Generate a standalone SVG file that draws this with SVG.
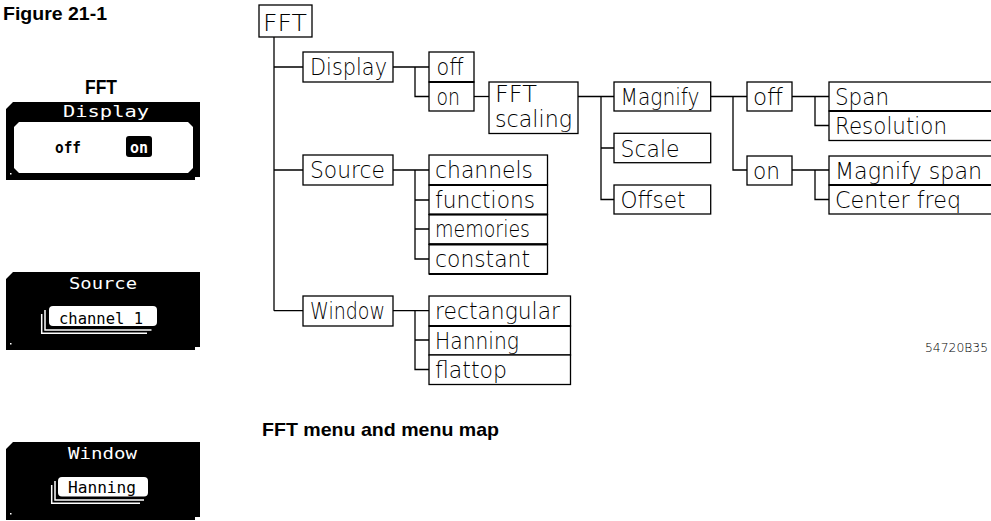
<svg xmlns="http://www.w3.org/2000/svg" width="991" height="521" viewBox="0 0 991 521">
<style>
.bg{fill:#fff}
.box{fill:#fff;stroke:#000;stroke-width:1.3}
.sep{stroke:#000;stroke-width:2.2;fill:none}
.ln{stroke:#000;stroke-width:1.3;fill:none}
.t{font-family:"DejaVu Sans","Liberation Sans",sans-serif;font-weight:200;font-size:23px;fill:#000}
.id{font-family:"DejaVu Sans","Liberation Sans",sans-serif;font-weight:200;font-size:12.5px;fill:#000}
.hd{font-family:"Liberation Sans Narrow","Liberation Sans",sans-serif;font-weight:bold;fill:#000}
.panel{fill:#000}
.pw{fill:#fff}
.ps{stroke:#fff;stroke-width:1.5;fill:none}
.pt{font-family:"DejaVu Sans Mono","Liberation Mono",monospace;font-size:16px}
</style>
<rect class="bg" x="0" y="0" width="991" height="521"/>

<text class="hd" x="3" y="20" font-size="18" textLength="104" lengthAdjust="spacingAndGlyphs">Figure 21-1</text>
<text class="hd" x="85" y="94" font-size="20" textLength="32" lengthAdjust="spacingAndGlyphs">FFT</text>
<text class="hd" x="262" y="436" font-size="19" textLength="237" lengthAdjust="spacingAndGlyphs">FFT menu and menu map</text>
<text class="id" x="925" y="352" textLength="63" lengthAdjust="spacingAndGlyphs">54720B35</text>

<!-- softkey panels -->
<g id="panel-display">
<path class="panel" d="M6,109 L13,102 L200,102 L200,177 L195,177 L195,180 L6,180 Z"/>
<rect class="pw" x="10" y="173" width="1.5" height="1.5"/>
<text class="pt pw" x="63" y="117" textLength="86" lengthAdjust="spacingAndGlyphs">Display</text>
<path class="pw" d="M19,122 L188,122 L193,127 L193,168 L188,173 L19,173 L14,168 L14,127 Z"/>
<text class="pt" x="55" y="153" font-weight="bold" textLength="26" lengthAdjust="spacingAndGlyphs" fill="#000">off</text>
<rect class="panel" x="126" y="136" width="26" height="21" rx="3"/>
<text class="pt pw" x="130" y="153" font-weight="bold" textLength="18" lengthAdjust="spacingAndGlyphs">on</text>
</g>

<g id="panel-source">
<path class="panel" d="M6,279 L13,272 L200,272 L200,347 L195,347 L195,350 L6,350 Z"/>
<rect class="pw" x="10" y="343" width="1.5" height="1.5"/>
<text class="pt pw" x="69" y="289" textLength="68" lengthAdjust="spacingAndGlyphs">Source</text>
<path class="ps" d="M41.7,314 L41.7,333.3 L147,333.3"/>
<path class="ps" d="M45,310 L45,330 L151.5,330"/>
<rect class="pw" x="49" y="306" width="108" height="20" rx="4"/>
<text class="pt" x="59" y="324" textLength="84" lengthAdjust="spacingAndGlyphs" fill="#000">channel 1</text>
</g>

<g id="panel-window">
<path class="panel" d="M6,449 L13,442 L200,442 L200,517 L195,517 L195,520 L6,520 Z"/>
<rect class="pw" x="10" y="513" width="1.5" height="1.5"/>
<text class="pt pw" x="68" y="459" textLength="69" lengthAdjust="spacingAndGlyphs">Window</text>
<path class="ps" d="M51.7,485 L51.7,503.3 L140,503.3"/>
<path class="ps" d="M55,481 L55,500 L144,500"/>
<rect class="pw" x="58" y="477" width="90" height="19.5" rx="4"/>
<text class="pt" x="68" y="493" textLength="68" lengthAdjust="spacingAndGlyphs" fill="#000">Hanning</text>
</g>

<!-- connectors -->
<g id="connectors">
<path class="ln" d="M274,37 L274,310.7"/>
<path class="ln" d="M274,67 L303,67 M274,170 L303,170 M274,310.7 L303,310.7"/>
<path class="ln" d="M393,67 L429,67 M415,67 L415,96.5 L429,96.5"/>
<path class="ln" d="M474,96.5 L489,96.5"/>
<path class="ln" d="M578,96.5 L614,96.5 M601,96.5 L601,199.5 L614,199.5 M601,148 L614,148"/>
<path class="ln" d="M710.7,96.5 L747,96.5 M733,96.5 L733,170 L747,170"/>
<path class="ln" d="M792,96.5 L829,96.5 M815,96.5 L815,125.5 L829,125.5"/>
<path class="ln" d="M792,170 L829,170 M815,170 L815,199.5 L829,199.5"/>
<path class="ln" d="M393,170 L429,170 M415,170 L415,259 L429,259 M415,200 L429,200 M415,229 L429,229"/>
<path class="ln" d="M393,310.7 L429,310.7 M415,310.7 L415,369.5 L429,369.5 M415,340 L429,340"/>
</g>

<!-- menu map nodes -->
<g id="n-fft"><rect class="box" x="259" y="5" width="53" height="32"/><text class="t" x="263" y="31" textLength="44" lengthAdjust="spacingAndGlyphs">FFT</text></g>
<g id="n-display"><rect class="box" x="303" y="52" width="90" height="30"/><text class="t" x="310" y="75" textLength="77" lengthAdjust="spacingAndGlyphs">Display</text></g>
<g id="n-display-off"><rect class="box" x="429" y="52" width="45" height="30"/><text class="t" x="436.5" y="75" textLength="27" lengthAdjust="spacingAndGlyphs">off</text></g>
<g id="n-display-on"><rect class="box" x="429" y="82" width="45" height="29"/><line class="sep" x1="429" y1="82" x2="474" y2="82"/><text class="t" x="436.5" y="105" textLength="23.5" lengthAdjust="spacingAndGlyphs">on</text></g>
<g id="n-fft-scaling"><rect class="box" x="489" y="82" width="89" height="51.5"/><text class="t" x="495" y="102" font-size="21" textLength="42" lengthAdjust="spacingAndGlyphs">FFT</text><text class="t" x="495" y="126.5" font-size="21" textLength="77" lengthAdjust="spacingAndGlyphs">scaling</text></g>
<g id="n-magnify"><rect class="box" x="614" y="82" width="96.7" height="29"/><text class="t" x="620.5" y="105" textLength="79" lengthAdjust="spacingAndGlyphs">Magnify</text></g>
<g id="n-scale"><rect class="box" x="614" y="133.3" width="96.7" height="29.4"/><text class="t" x="620.5" y="156.5" textLength="59" lengthAdjust="spacingAndGlyphs">Scale</text></g>
<g id="n-offset"><rect class="box" x="614" y="185" width="96.7" height="29"/><text class="t" x="620.5" y="208" textLength="65" lengthAdjust="spacingAndGlyphs">Offset</text></g>
<g id="n-magnify-off"><rect class="box" x="747" y="82" width="45" height="29"/><text class="t" x="753" y="105" textLength="30" lengthAdjust="spacingAndGlyphs">off</text></g>
<g id="n-magnify-on"><rect class="box" x="747" y="156" width="45" height="29"/><text class="t" x="753" y="178.5" textLength="27" lengthAdjust="spacingAndGlyphs">on</text></g>
<g id="n-span"><rect class="box" x="829" y="82" width="180" height="29"/><text class="t" x="835" y="105" textLength="54" lengthAdjust="spacingAndGlyphs">Span</text></g>
<g id="n-resolution"><rect class="box" x="829" y="111" width="180" height="29.5"/><line class="sep" x1="829" y1="111" x2="991" y2="111"/><text class="t" x="835" y="134" textLength="112" lengthAdjust="spacingAndGlyphs">Resolution</text></g>
<g id="n-magnify-span"><rect class="box" x="829" y="156" width="180" height="29"/><text class="t" x="835" y="178.5" textLength="147" lengthAdjust="spacingAndGlyphs">Magnify span</text></g>
<g id="n-center-freq"><rect class="box" x="829" y="185" width="180" height="29"/><line class="sep" x1="829" y1="185" x2="991" y2="185"/><text class="t" x="835" y="208" textLength="126" lengthAdjust="spacingAndGlyphs">Center freq</text></g>
<g id="n-source"><rect class="box" x="303" y="155" width="90" height="30"/><text class="t" x="310" y="178" textLength="75" lengthAdjust="spacingAndGlyphs">Source</text></g>
<g id="n-channels"><rect class="box" x="429" y="155" width="118.5" height="30"/><text class="t" x="435" y="178" textLength="98" lengthAdjust="spacingAndGlyphs">channels</text></g>
<g id="n-functions"><rect class="box" x="429" y="185" width="118.5" height="29.5"/><line class="sep" x1="429" y1="185" x2="547.5" y2="185"/><text class="t" x="435" y="207.5" textLength="100" lengthAdjust="spacingAndGlyphs">functions</text></g>
<g id="n-memories"><rect class="box" x="429" y="214.5" width="118.5" height="29.8"/><line class="sep" x1="429" y1="214.5" x2="547.5" y2="214.5"/><text class="t" x="435" y="237" textLength="95" lengthAdjust="spacingAndGlyphs">memories</text></g>
<g id="n-constant"><rect class="box" x="429" y="244.3" width="118.5" height="29.7"/><line class="sep" x1="429" y1="244.3" x2="547.5" y2="244.3"/><line class="sep" x1="429" y1="274" x2="547.5" y2="274"/><text class="t" x="435" y="267" textLength="95" lengthAdjust="spacingAndGlyphs">constant</text></g>
<g id="n-window"><rect class="box" x="303" y="296" width="90" height="30"/><text class="t" x="310" y="319" textLength="75" lengthAdjust="spacingAndGlyphs">Window</text></g>
<g id="n-rectangular"><rect class="box" x="429" y="296" width="141.5" height="30"/><text class="t" x="435" y="319" textLength="125" lengthAdjust="spacingAndGlyphs">rectangular</text></g>
<g id="n-hanning"><rect class="box" x="429" y="326" width="141.5" height="29"/><line class="sep" x1="429" y1="326" x2="570.5" y2="326"/><text class="t" x="435" y="348.5" textLength="84" lengthAdjust="spacingAndGlyphs">Hanning</text></g>
<g id="n-flattop"><rect class="box" x="429" y="355" width="141.5" height="29.5"/><text class="t" x="435" y="378" textLength="72" lengthAdjust="spacingAndGlyphs">flattop</text></g>
</svg>
